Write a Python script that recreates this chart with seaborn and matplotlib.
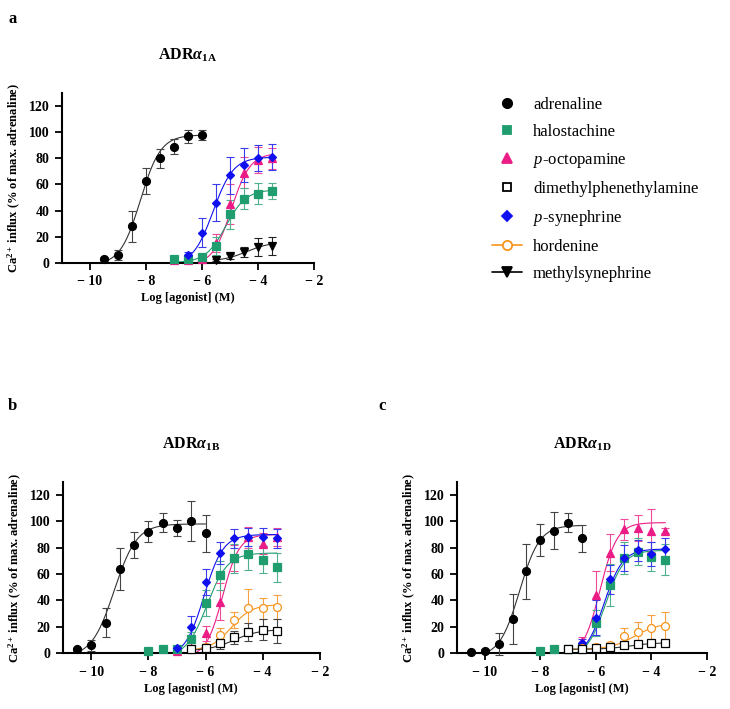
import matplotlib
matplotlib.use("Agg")
import matplotlib.pyplot as plt
from matplotlib.lines import Line2D
import numpy as np
import pandas as pd
import seaborn as sns

sns.set_style("ticks")
plt.rcParams['font.family'] = ['Liberation Serif', 'DejaVu Serif']
plt.rcParams['text.color'] = 'black'
plt.rcParams['axes.labelcolor'] = 'black'
plt.rcParams['xtick.color'] = 'black'
plt.rcParams['ytick.color'] = 'black'
plt.rcParams['axes.edgecolor'] = 'black'
plt.rcParams['mathtext.fontset'] = 'custom'
plt.rcParams['mathtext.rm'] = 'Liberation Serif:bold'
plt.rcParams['mathtext.bf'] = 'Liberation Serif:bold'
plt.rcParams['mathtext.it'] = 'Liberation Serif:italic'
plt.rcParams['mathtext.bfit'] = 'Liberation Serif:bold:italic'

# compounds, legend order
compounds = ["adrenaline", "halostachine", "$p$-octopamine", "dimethylphenethylamine",
             "$p$-synephrine", "hordenine", "methylsynephrine"]
colors = ["black", "#1f9d6f", "#ec1c86", "black", "#1010ee", "#f7941d", "black"]
bar_colors = ["#444444", "#4fb08c", "#ee4a9a", "#444444", "#3a3aee", "#f7a040", "#222222"]
markers = ["o", "s", "^", "s", "D", "o", "v"]
filled = [True, True, True, False, True, False, True]

# ---- panel a (ADRa1A): log conc, mean, sem
a_adr_x = [-9.5, -9, -8.5, -8, -7.5, -7, -6.5, -6]
a_adr_y = [3, 6, 28, 63, 80, 89, 97, 98]
a_adr_e = [1, 4, 12, 10, 7, 6, 5, 4]
a_hal_x = [-7, -6.5, -6, -5.5, -5, -4.5, -4, -3.5]
a_hal_y = [3, 3, 4, 13, 37, 49, 53, 55]
a_hal_e = [1, 1, 2, 7, 11, 8, 8, 6]
a_oct_x = [-7, -6.5, -6, -5.5, -5, -4.5, -4, -3.5]
a_oct_y = [2, 2, 3, 15, 45, 69, 79, 80]
a_oct_e = [1, 1, 2, 7, 15, 12, 10, 8]
a_syn_x = [-6.5, -6, -5.5, -5, -4.5, -4, -3.5]
a_syn_y = [6, 23, 46, 67, 75, 80, 81]
a_syn_e = [2, 11, 14, 14, 13, 10, 10]
a_mes_x = [-5.5, -5, -4.5, -4, -3.5]
a_mes_y = [2, 5, 8, 12, 13]
a_mes_e = [1, 2, 4, 7, 7]

# ---- panel b (ADRa1B)
b_adr_x = [-10.5, -10, -9.5, -9, -8.5, -8, -7.5, -7, -6.5, -6]
b_adr_y = [3, 6, 23, 64, 82, 92, 99, 95, 100, 91]
b_adr_e = [1, 4, 11, 16, 10, 8, 7, 6, 15, 14]
b_hal_x = [-8, -7.5, -7, -6.5, -6, -5.5, -5, -4.5, -4, -3.5]
b_hal_y = [2, 3, 3, 11, 38, 59, 72, 75, 71, 65]
b_hal_e = [1, 1, 1, 5, 10, 11, 11, 12, 10, 11]
b_oct_x = [-7, -6.5, -6, -5.5, -5, -4.5, -4, -3.5]
b_oct_y = [2, 4, 15, 39, 72, 88, 83, 88]
b_oct_e = [1, 2, 6, 14, 10, 8, 8, 7]
b_syn_x = [-7, -6.5, -6, -5.5, -5, -4.5, -4, -3.5]
b_syn_y = [4, 20, 54, 76, 87, 88, 88, 87]
b_syn_e = [1, 8, 10, 8, 7, 7, 7, 7]
b_hor_x = [-6.5, -6, -5.5, -5, -4.5, -4, -3.5]
b_hor_y = [3, 5, 14, 25, 34, 34, 35]
b_hor_e = [1, 2, 5, 6, 15, 8, 9]
b_dmp_x = [-6.5, -6, -5.5, -5, -4.5, -4, -3.5]
b_dmp_y = [3, 4, 8, 12, 16, 18, 17]
b_dmp_e = [1, 2, 5, 5, 7, 8, 9]

# ---- panel c (ADRa1D)
c_adr_x = [-10.5, -10, -9.5, -9, -8.5, -8, -7.5, -7, -6.5]
c_adr_y = [1, 2, 7, 26, 62, 86, 93, 99, 87]
c_adr_e = [1, 1, 8, 19, 21, 12, 14, 7, 10]
c_hal_x = [-8, -7.5, -7, -6.5, -6, -5.5, -5, -4.5, -4, -3.5]
c_hal_y = [2, 3, 3, 4, 23, 52, 72, 77, 73, 71]
c_hal_e = [1, 1, 1, 2, 10, 16, 12, 10, 11, 12]
c_oct_x = [-6.5, -6, -5.5, -5, -4.5, -4, -3.5]
c_oct_y = [9, 44, 76, 94, 95, 93, 93]
c_oct_e = [3, 18, 14, 8, 10, 16, 2]
c_syn_x = [-6.5, -6, -5.5, -5, -4.5, -4, -3.5]
c_syn_y = [8, 27, 56, 72, 78, 75, 79]
c_syn_e = [3, 13, 11, 10, 8, 9, 8]
c_hor_x = [-7, -6.5, -6, -5.5, -5, -4.5, -4, -3.5]
c_hor_y = [3, 4, 5, 6, 13, 16, 19, 21]
c_hor_e = [1, 1, 1, 2, 6, 8, 10, 10]
c_dmp_x = [-7, -6.5, -6, -5.5, -5, -4.5, -4, -3.5]
c_dmp_y = [3, 3.5, 4, 5, 6, 7, 7.5, 7.5]
c_dmp_e = [1, 1, 1, 1, 1, 1, 1, 1]

# fitted curve parameters: bottom, top, logEC50, hill slope
a_fits = {0: (-2, 98, -8.2, 1.2), 1: (0, 56, -5.15, 1.2), 2: (-2, 84, -4.95, 1.3),
          4: (-2, 81, -5.6, 1.2), 6: (1, 16, -4.4, 1.0)}
b_fits = {0: (-3, 98, -9.2, 1.1), 1: (-3, 76, -5.95, 1.2), 2: (-3, 90, -5.4, 1.5),
          4: (-3, 90, -6.05, 1.3), 5: (2, 37, -5.1, 1.2), 3: (2, 18, -5.0, 1.0)}
c_fits = {0: (-3, 97, -8.75, 1.2), 1: (-3, 78, -5.65, 1.3), 2: (-3, 99, -5.85, 1.4),
          4: (-3, 79, -5.7, 1.3), 5: (3, 23, -4.6, 1.0), 3: (3, 8, -4.8, 1.0)}

a_data = {0: (a_adr_x, a_adr_y, a_adr_e), 2: (a_oct_x, a_oct_y, a_oct_e),
          1: (a_hal_x, a_hal_y, a_hal_e), 4: (a_syn_x, a_syn_y, a_syn_e),
          6: (a_mes_x, a_mes_y, a_mes_e)}
b_data = {0: (b_adr_x, b_adr_y, b_adr_e), 2: (b_oct_x, b_oct_y, b_oct_e),
          1: (b_hal_x, b_hal_y, b_hal_e), 4: (b_syn_x, b_syn_y, b_syn_e),
          5: (b_hor_x, b_hor_y, b_hor_e), 3: (b_dmp_x, b_dmp_y, b_dmp_e)}
c_data = {0: (c_adr_x, c_adr_y, c_adr_e), 2: (c_oct_x, c_oct_y, c_oct_e),
          1: (c_hal_x, c_hal_y, c_hal_e), 4: (c_syn_x, c_syn_y, c_syn_e),
          5: (c_hor_x, c_hor_y, c_hor_e), 3: (c_dmp_x, c_dmp_y, c_dmp_e)}

xticks = [-10, -8, -6, -4, -2]
yticks = [0, 20, 40, 60, 80, 100, 120]


def hill(x, bottom, top, ec, h):
    return bottom + (top - bottom) / (1 + 10 ** ((ec - x) * h))


def msize(m):
    return {"o": 5.7, "s": 5.1, "^": 5.5, "D": 4.2, "v": 5.5}[m]


def draw_panel(ax, data, fits, title, xlabel):
    for i, (xs, ys, es) in data.items():
        b, t, ec, h = fits[i]
        xx = np.linspace(min(xs), max(xs), 200)
        curve = pd.DataFrame({"x": xx, "y": hill(xx, b, t, ec, h)})
        line_col = "#333333" if colors[i] == "black" else colors[i]
        sns.lineplot(data=curve, x="x", y="y", ax=ax, color=line_col, lw=0.8,
                     zorder=2)
        ax.errorbar(xs, ys, yerr=es, fmt="none", ecolor=bar_colors[i], elinewidth=0.8,
                    capsize=3, capthick=0.8, zorder=3, clip_on=False)
        fc = colors[i] if filled[i] else "white"
        ax.plot(xs, ys, ls="none", marker=markers[i], ms=msize(markers[i]), mfc=fc,
                mec=colors[i], mew=0.9, zorder=4, clip_on=False)
    ax.set_xlim(-11, -2)
    ax.set_ylim(0, 130)
    ax.set_xticks(xticks)
    ax.set_yticks(yticks)
    ax.set_xticklabels(["\u2212 %d" % abs(v) for v in xticks])
    ax.set_yticklabels([str(v) for v in yticks])
    for lab in ax.get_xticklabels() + ax.get_yticklabels():
        lab.set_fontweight("bold")
        lab.set_fontsize(10)
    ax.tick_params(width=1.3, length=5, pad=4)
    for s in ["left", "bottom"]:
        ax.spines[s].set_linewidth(1.5)
    sns.despine(ax=ax)
    ax.set_title(title, fontsize=11.5, fontweight="bold", pad=24)
    ax.set_ylabel(r"Ca$^{2+}$ influx (% of max. adrenaline)", fontsize=9,
                  fontweight="bold", labelpad=4)
    ax.set_xlabel(xlabel, fontsize=9, fontweight="bold", labelpad=3)


fig = plt.figure(figsize=(7.3, 7.09), dpi=100)
ax_a = fig.add_axes([0.085, 0.6295, 0.345, 0.239])
ax_b = fig.add_axes([0.086, 0.0786, 0.352, 0.242])
ax_c = fig.add_axes([0.626, 0.0786, 0.3425, 0.242])

draw_panel(ax_a, a_data, a_fits, r"ADR$\mathbfit{\alpha}_{\mathbf{1A}}$", "Log [agonist] (M)")
draw_panel(ax_b, b_data, b_fits, r"ADR$\mathbfit{\alpha}_{\mathbf{1B}}$", "Log [agonist] (M)")
draw_panel(ax_c, c_data, c_fits, r"ADR$\mathbfit{\alpha}_{\mathbf{1D}}$", "Log [agonist] (M)")

fig.text(0.011, 0.967, "a", fontsize=12, fontweight="bold")
fig.text(0.011, 0.422, "b", fontsize=12, fontweight="bold")
fig.text(0.518, 0.422, "c", fontsize=12, fontweight="bold")

# legend
handles = []
for i, name in enumerate(compounds):
    fc = colors[i] if filled[i] else "white"
    ls = "-" if i in (5, 6) else "none"
    handles.append(Line2D([], [], color=colors[i], ls=ls, lw=1.2, marker=markers[i],
                          ms=msize(markers[i]) + 1.0, mfc=fc, mec=colors[i], mew=1.3))
fig.legend(handles, compounds, loc="upper left", bbox_to_anchor=(0.665, 0.873),
           frameon=False, fontsize=12, handlelength=1.8, handletextpad=0.65,
           labelspacing=0.66, borderaxespad=0)

fig.savefig("out.png", dpi=100)
